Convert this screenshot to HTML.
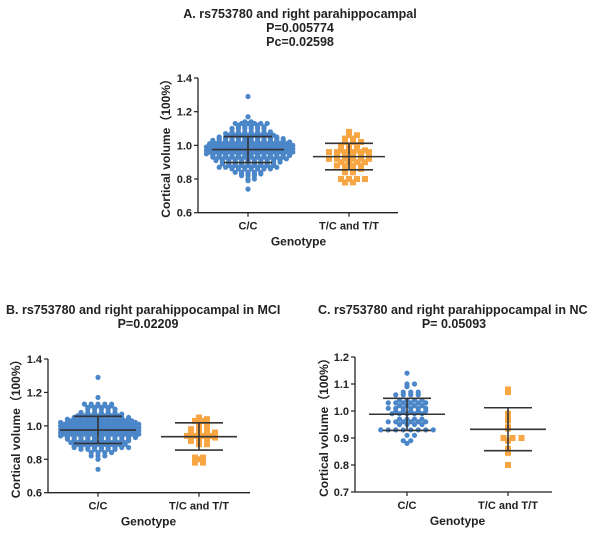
<!DOCTYPE html>
<html><head><meta charset="utf-8"><style>
body{margin:0;background:#fff;width:600px;height:532px;overflow:hidden;font-family:"Liberation Sans",Arial,sans-serif}
svg text{font-family:"Liberation Sans",Arial,sans-serif;font-weight:bold;fill:#222}
</style></head><body>
<svg id="svg" width="600" height="532">
<text x="300" y="18" text-anchor="middle" font-size="12.5">A. rs753780 and right parahippocampal</text>
<text x="300" y="32" text-anchor="middle" font-size="12.5">P=0.005774</text>
<text x="300" y="46" text-anchor="middle" font-size="12.5">Pc=0.02598</text>
<text x="6" y="314" font-size="12.5">B. rs753780 and right parahippocampal in MCI</text>
<text x="148" y="328" text-anchor="middle" font-size="12.5">P=0.02209</text>
<text x="318" y="314" font-size="12.5">C. rs753780 and right parahippocampal in NC</text>
<text x="454" y="328" text-anchor="middle" font-size="12.5">P= 0.05093</text>
</svg>
<script>
// Chart A data
const aCCvals=[1.29,1.17,1.14,1.13,1.12,1.11,1.10,1.08,1.07,1.06,1.05,1.04,1.03,1.02,1.01,1.00,0.99,0.98,0.97,0.96,0.95,0.94,0.93,0.92,0.91,0.90,0.89,0.88,0.87,0.86,0.84,0.83,0.82,0.80,0.79,0.74];
const aCCcounts=[1,1,2,6,4,5,6,7,8,8,10,11,12,13,13,14,14,14,14,14,14,13,12,12,11,10,9,8,10,7,5,4,3,2,1,1];
const aTCvals=[1.08,1.06,1.04,1.02,1.00,0.97,0.96,0.94,0.92,0.90,0.88,0.86,0.84,0.80,0.78];
const aTCcounts=[1,2,2,3,3,4,6,5,6,4,4,3,2,4,2];
const aStats=[[0.975,1.052,0.898],[0.933,1.012,0.855]];
// Chart B data
const bCCvals=[1.29,1.17,1.13,1.12,1.11,1.10,1.08,1.07,1.06,1.05,1.04,1.03,1.02,1.01,1.00,0.99,0.98,0.97,0.96,0.95,0.94,0.93,0.92,0.91,0.90,0.89,0.88,0.87,0.86,0.84,0.82,0.80,0.74];
const bCCcounts=[1,1,5,4,4,5,6,7,7,9,10,10,12,12,12,12,12,12,12,12,12,11,10,9,9,8,8,9,6,4,3,1,1];
const bTCvals=[1.05,1.04,1.03,1.01,0.98,0.96,0.94,0.93,0.91,0.89,0.81,0.80,0.78];
const bTCcounts=[1,2,2,2,3,4,4,4,3,2,2,1,2];
const bStats=[[0.975,1.057,0.895],[0.935,1.018,0.855]];
// Chart C data
const cCCvals=[1.14,1.10,1.09,1.07,1.06,1.04,1.03,1.02,1.01,1.00,0.99,0.97,0.96,0.95,0.93,0.91,0.89,0.88];
const cCCcounts=[1,2,1,3,4,4,6,4,6,5,5,4,6,4,8,2,2,1];
const cTCvals=[1.08,1.07,0.99,0.975,0.965,0.94,0.935,0.90,0.89,0.86,0.845,0.80];
const cTCcounts=[1,1,1,1,1,1,1,3,1,1,1,1];
const cStats=[[0.988,1.047,0.928],[0.932,1.012,0.853]];
const catLabels=["C/C","T/C and T/T"];
const aTicks=[0.6,0.8,1.0,1.2,1.4];
const cTicks=[0.7,0.8,0.9,1.0,1.1,1.2];

const svg=document.getElementById('svg');
const NS='http://www.w3.org/2000/svg';
function mk(tag,attrs,parent){const e=document.createElementNS(NS,tag);for(const k in attrs)e.setAttribute(k,attrs[k]);(parent||svg).appendChild(e);return e;}

function chart(id,cfg){
  const g=mk('g',{});
  
  
  const y=v=>cfg.y0+(v-cfg.vmin)/(cfg.vmax-cfg.vmin)*(cfg.y1-cfg.y0);
  const ya=mk('line',{x1:cfg.ax,x2:cfg.ax,y1:y(cfg.vmax),y2:y(cfg.vmin),stroke:'#222','stroke-width':1.3},g);
  
  const xa=mk('line',{x1:cfg.ax,x2:cfg.axEnd,y1:y(cfg.vmin),y2:y(cfg.vmin),stroke:'#222','stroke-width':1.3},g);
  
  cfg.ticks.forEach(t=>{
    mk('line',{x1:cfg.ax-4,x2:cfg.ax,y1:y(t),y2:y(t),stroke:'#222','stroke-width':1.2},g);
    const tx=mk('text',{x:cfg.ax-6,y:y(t)+4,'text-anchor':'end','font-size':11},g);
    tx.textContent=t.toFixed(1);
    
  });
  cfg.cx.forEach((cx,i)=>{
    mk('line',{x1:cx,x2:cx,y1:y(cfg.vmin),y2:y(cfg.vmin)+4,stroke:'#222','stroke-width':1.2},g);
    const tx=mk('text',{x:cx,y:y(cfg.vmin)+17,'text-anchor':'middle','font-size':11},g);
    tx.textContent=catLabels[i];
    
  });
  const xt=mk('text',{x:(cfg.cx[0]+cfg.cx[1])/2,y:y(cfg.vmin)+33,'text-anchor':'middle','font-size':12},g);
  xt.textContent='Genotype';
  
  const ym=(y(cfg.vmin)+y(cfg.vmax))/2;
  const yt=mk('text',{x:cfg.ylx,y:ym,'text-anchor':'middle','font-size':12,transform:`rotate(-90 ${cfg.ylx} ${ym})`},g);
  yt.textContent='Cortical volume\uFF08100%\uFF09';
  
  cfg.series.forEach((s,si)=>{
    s.vals.forEach((v,k)=>{
      const n=s.counts[k];
      const off=(k%2)?s.sp/2:0;
      for(let j=0;j<n;j++){
        const px=cfg.cx[si]+(j-(n-1)/2)*s.sp+(n>1?off:0);
        const py=y(v);
        let el;
        if(si===0){el=mk('circle',{cx:px,cy:py,r:2.6,fill:'#4a86c8'},g);}
        else{el=mk('rect',{x:px-3,y:py-3,width:6,height:6,fill:'#f7a643'},g);}
        
      }
    });
    const st=cfg.stats[si],cx=cfg.cx[si];
    const col='#333';
    const m=mk('line',{x1:cx-cfg.mw,x2:cx+cfg.mw,y1:y(st[0]),y2:y(st[0]),stroke:col,'stroke-width':1.6},g);
    
    const v=mk('line',{x1:cx,x2:cx,y1:y(st[1]),y2:y(st[2]),stroke:col,'stroke-width':1.6},g);
    
    [st[1],st[2]].forEach(b=>{
      const c=mk('line',{x1:cx-cfg.sw,x2:cx+cfg.sw,y1:y(b),y2:y(b),stroke:col,'stroke-width':1.6},g);
      
    });
  });
}
chart('a',{vmin:0.6,vmax:1.4,y0:212.7,y1:78,ax:198,axEnd:398,cx:[248,349],ylx:170,ticks:aTicks,mw:36,sw:24,
  series:[{vals:aCCvals,counts:aCCcounts,sp:6.4},{vals:aTCvals,counts:aTCcounts,sp:8}],stats:aStats});
chart('b',{vmin:0.6,vmax:1.4,y0:492.7,y1:359,ax:48,axEnd:250,cx:[98,199],ylx:20,ticks:aTicks,mw:38,sw:24,
  series:[{vals:bCCvals,counts:bCCcounts,sp:6.8},{vals:bTCvals,counts:bTCcounts,sp:8}],stats:bStats});
chart('c',{vmin:0.7,vmax:1.2,y0:492,y1:357,ax:355,axEnd:552,cx:[407,508],ylx:328,ticks:cTicks,mw:38,sw:24,
  series:[{vals:cCCvals,counts:cCCcounts,sp:7.5},{vals:cTCvals,counts:cTCcounts,sp:9}],stats:cStats});
</script>
</body></html>
